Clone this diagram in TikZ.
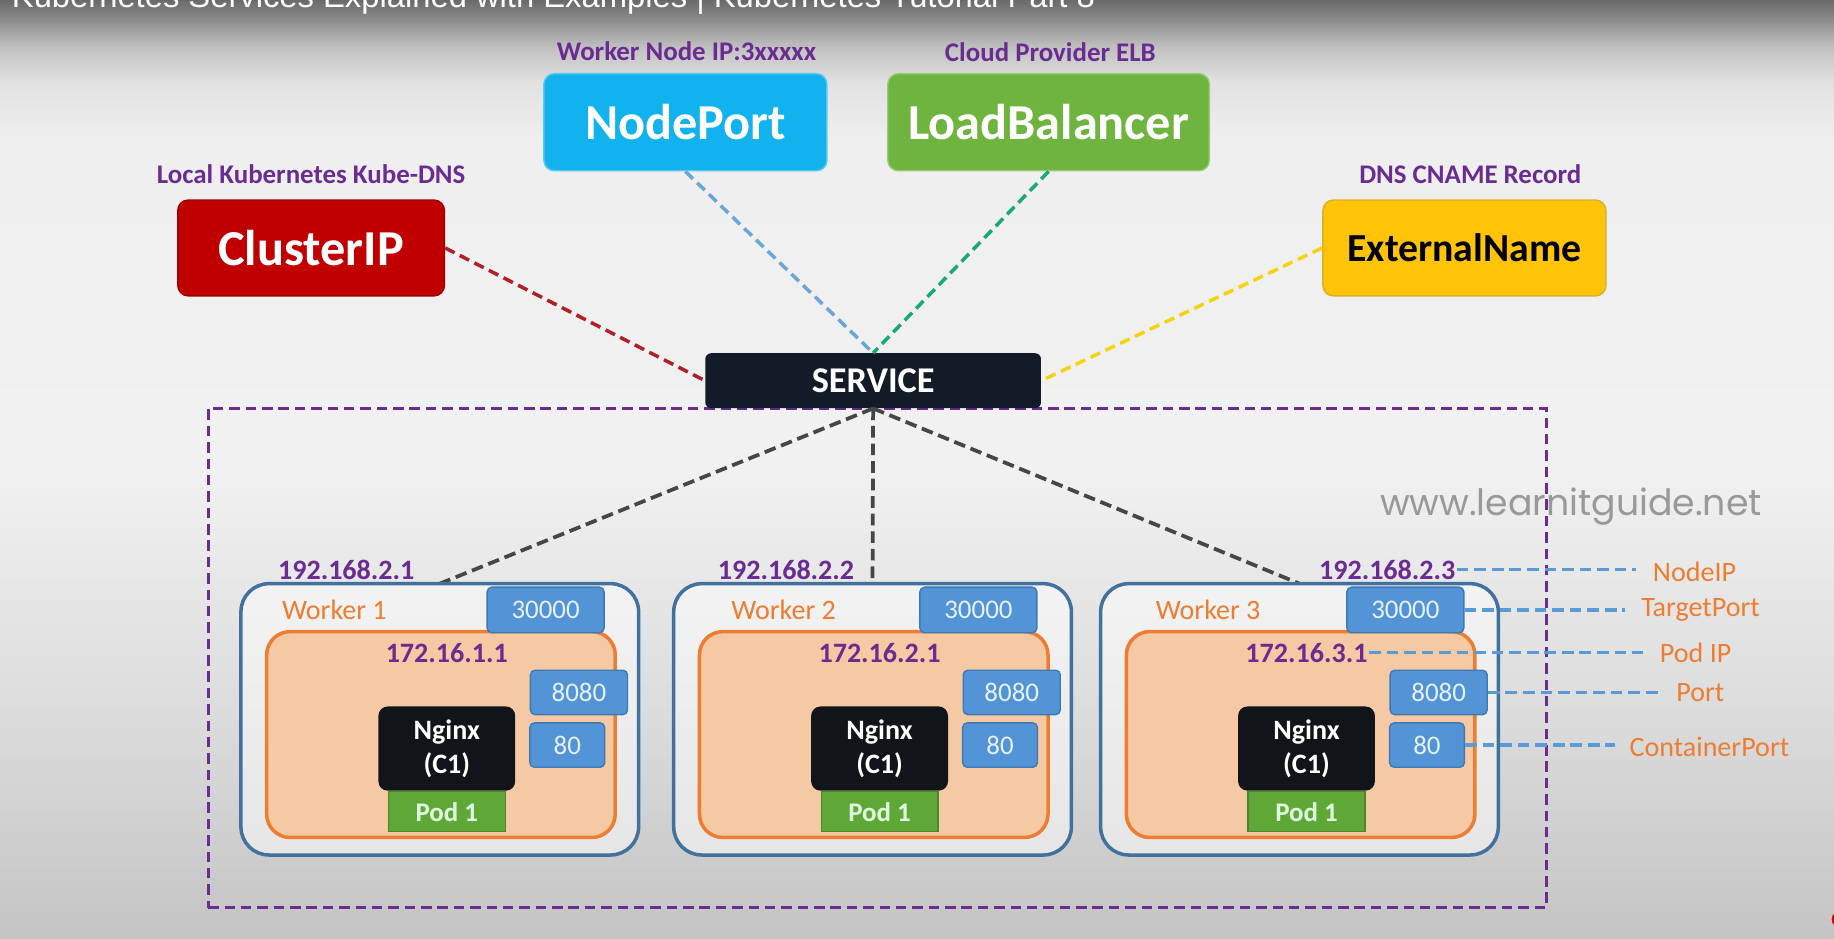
\documentclass[tikz,border=0pt]{standalone}
\usepackage{fontspec}
\setmainfont{Carlito}
\newfontfamily\titlefont{Liberation Sans}
\newfontfamily\wmfont{Poppins}
\newcommand\setfs[2]{\fontsize{#1}{#2}\selectfont}
\definecolor{purp}{HTML}{6A2C91}
\definecolor{orng}{HTML}{ED7D31}
\definecolor{portfill}{HTML}{5294D6}
\definecolor{portdraw}{HTML}{3F78B5}
\definecolor{porttext}{HTML}{E8F0FA}
\definecolor{wborder}{HTML}{41719C}
\definecolor{podfill}{HTML}{F6C9A5}
\definecolor{nginxc}{HTML}{111418}
\definecolor{podgreen}{HTML}{5FA737}
\definecolor{npblue}{HTML}{11B2EE}
\definecolor{lbgreen}{HTML}{6EB43F}
\definecolor{cipred}{HTML}{C00000}
\definecolor{extyel}{HTML}{FFC408}
\definecolor{svcfill}{HTML}{131B28}
\definecolor{lnred}{HTML}{B0202A}
\definecolor{lnblue}{HTML}{6CA6D9}
\definecolor{lngreen}{HTML}{19A974}
\definecolor{lnyel}{HTML}{F2D40F}
\definecolor{lngray}{HTML}{464646}
\definecolor{rlblue}{HTML}{5B9BD5}
\definecolor{wmc}{HTML}{999999}
\definecolor{bgA}{HTML}{C4C4C4}
\definecolor{bgB}{HTML}{DCDCDC}
\definecolor{bgC}{HTML}{F1F1F1}
\definecolor{bgD}{HTML}{EFEFEF}
\definecolor{bgE}{HTML}{E2E2E2}
\definecolor{bgF}{HTML}{C0C0C0}
\definecolor{bgG}{HTML}{8A8A8A}
\definecolor{bgH}{HTML}{6A6A6A}
\pgfdeclareverticalshading{bgshade}{100bp}{color(0bp)=(bgA); color(25bp)=(bgA); color(37bp)=(bgB); color(50bp)=(bgC); color(67.5bp)=(bgD); color(70.6bp)=(bgE); color(72.5bp)=(bgF); color(74bp)=(bgG); color(75bp)=(bgH); color(100bp)=(bgH)}
\tikzset{
 bigbox/.style={rounded corners=9pt, minimum height=83pt, inner sep=0pt, line width=1.2pt, font=\bfseries\setfs{43}{48}, text=white},
 caplbl/.style={text=purp, font=\bfseries\setfs{23}{27}, inner sep=1pt},
 toplink/.style={line width=3pt, dash pattern=on 9pt off 5pt},
 nodelink/.style={line width=3.2pt, draw=lngray, dash pattern=on 10pt off 5pt},
 clusterbox/.style={draw=purp, line width=2.8pt, dash pattern=on 9pt off 5pt, inner sep=0pt},
 workerbox/.style={draw=wborder, line width=3pt, rounded corners=24pt, fill=white, fill opacity=0.5, draw opacity=1, inner sep=0pt},
 podbox/.style={draw=orng, fill=podfill, line width=3pt, rounded corners=20pt, inner sep=0pt},
 portbox/.style={draw=portdraw, fill=portfill, line width=1.2pt, rounded corners=4pt, text=porttext, font=\setfs{23}{27}, inner sep=0pt},
 iplbl/.style={text=purp, font=\bfseries\setfs{24}{28}, inner sep=1pt},
 wlbl/.style={text=orng, font=\setfs{24}{28}, inner sep=0pt, anchor=west},
 ngbox/.style={fill=nginxc, rounded corners=8pt, text=white, font=\bfseries\setfs{24}{29}, align=center, inner sep=0pt},
 podlbl/.style={fill=podgreen, draw=podgreen!80!black, line width=1pt, text=white!88!green, font=\bfseries\setfs{23}{27}, inner sep=0pt},
 rlbl/.style={text=orng, font=\setfs{24}{28}, anchor=west, inner sep=0pt},
 rlink/.style={draw=rlblue, line width=2.8pt, dash pattern=on 10pt off 5pt},
}
\begin{document}
\begin{tikzpicture}[x=1pt,y=-1pt]
\useasboundingbox (0,0) rectangle (1568,802);
\shade[shading=bgshade] (0,0) rectangle (1568,802);
\node[anchor=base west, inner sep=0pt, text=white, font=\titlefont\setfs{28}{32}] (title) at (10,6) {Kubernetes Services Explained with Examples | Kubernetes Tutorial Part 8};

% cluster
\node[clusterbox, minimum width=1144pt, minimum height=427pt] (cluster) at (750,562.5) {};

% top service types
\node[caplbl] (npcap) at (587,44) {Worker Node IP:3xxxxx};
\node[caplbl] (lbcap) at (898,45) {Cloud Provider ELB};
\node[caplbl] (cipcap) at (266,149) {Local Kubernetes Kube-DNS};
\node[caplbl] (extcap) at (1257,149) {DNS CNAME Record};

\node[bigbox, fill=npblue, draw=npblue!70!white, minimum width=242pt] (np) at (586,104.5) {NodePort};
\node[bigbox, fill=lbgreen, draw=lbgreen!70!white, minimum width=275pt] (lb) at (896.5,104.5) {LoadBalancer};
\node[bigbox, fill=cipred, draw=cipred!80!black, minimum width=228pt, minimum height=82pt] (cip) at (266,212) {ClusterIP};
\node[bigbox, fill=extyel, draw=extyel!70!gray, minimum width=242pt, minimum height=82pt, text=black, font=\bfseries\setfs{34}{40}] (ext) at (1252,212) {ExternalName};

\node[fill=svcfill, rounded corners=5pt, minimum width=287pt, minimum height=47pt, inner sep=0pt, text=white, font=\bfseries\setfs{31}{36}] (svc) at (746.5,325.5) {SERVICE};

\draw[toplink, draw=lnred] (cip.east) -- (svc.west);
\draw[toplink, draw=lnblue] (np.south) -- (svc.north);
\draw[toplink, draw=lngreen] (lb.south) -- (svc.north);
\draw[toplink, draw=lnyel] (ext.west) -- (svc.east);

% watermark
\node[text=wmc, font=\wmfont\setfs{31}{34}, inner sep=0pt] (wm) at (1343,433) {www.learnitguide.net};

% workers
\foreach \i/\L/\ipx/\wlx/\podip in {1/206/296/241/172.16.1.1, 2/576/672/625/172.16.2.1, 3/941/1186/988/172.16.3.1}{
  \draw[nodelink] (svc.south) -- ({\L+170},499);
  \node[workerbox, minimum width=340pt, minimum height=232pt] (w\i) at ({\L+170},615) {};
  \node[iplbl] (ip\i) at (\ipx,487) {192.168.2.\i};
  \node[wlbl] (wl\i) at (\wlx,521) {Worker \i};
  \node[podbox, minimum width=298pt, minimum height=176pt] (pod\i) at ({\L+171},628) {};
  \node[iplbl] (pip\i) at ({\L+176},558) {\podip};
  \node[ngbox, minimum width=117pt, minimum height=72pt] (ng\i) at ({\L+176},640) {Nginx\\(C1)};
  \node[podlbl, minimum width=100pt, minimum height=34pt] (pl\i) at ({\L+176},694) {Pod 1};
  \node[portbox, minimum width=83pt, minimum height=38pt] (pa\i) at ({\L+289},592) {8080};
  \node[portbox, minimum width=64pt, minimum height=38pt] (pb\i) at ({\L+279},637) {80};
  \node[portbox, minimum width=100pt, minimum height=39pt] (pc\i) at ({\L+260.5},521.5) {30000};
}

% right labels
\node[rlbl] (lnodeip) at (1413,489) {NodeIP};
\node[rlbl] (ltarget) at (1403,521.5) {TargetPort};
\node[rlbl] (lpodip) at (1419,558) {Pod IP};
\node[rlbl] (lport) at (1433,592) {Port};
\node[rlbl] (lcport) at (1393,639) {ContainerPort};

\draw[rlink, shorten >=14pt] (ip3.east) -- (ip3.east -| lnodeip.west);
\draw[rlink, shorten >=14pt] (pc3.east) -- (pc3.east -| ltarget.west);
\draw[rlink, shorten >=14pt] (pip3.east) -- (pip3.east -| lpodip.west);
\draw[rlink, shorten >=12pt] (pa3.east) -- (pa3.east -| lport.west);
\draw[rlink, shorten >=12pt] (pb3.east) -- (pb3.east -| lcport.west);

\fill[red!85!black] (1573,786) circle (7pt);
\end{tikzpicture}
\end{document}
